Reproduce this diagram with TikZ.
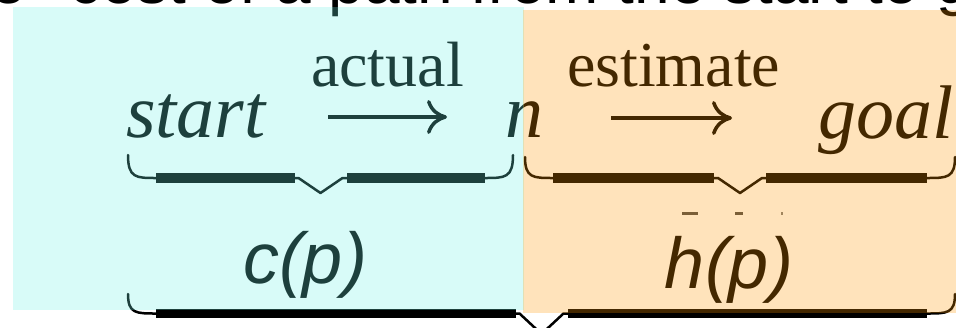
\documentclass[tikz,border=0pt]{standalone}
\usepackage{fontspec}
\setmainfont{Liberation Serif}
\newfontfamily\lsans{Liberation Sans}
\usetikzlibrary{arrows.meta}
\definecolor{tintcyan}{RGB}{112,243,232}
\definecolor{tintorange}{RGB}{255,150,0}
\tikzset{
  txt/.style={inner sep=0pt, outer sep=0pt, text=black},
  serifit/.style={txt, font=\fontsize{76}{80}\selectfont\itshape, anchor=base west},
  seriflab/.style={txt, font=\fontsize{64}{70}\selectfont, anchor=base west},
  sansit/.style={txt, font=\lsans\fontsize{72}{80}\selectfont\itshape, anchor=base},
  toptext/.style={txt, font=\lsans\fontsize{64}{70}\selectfont},
  longarrow/.style={line width=3.5pt, -{To[length=20pt,width=34pt]}},
  tint/.style={fill opacity=0.267},
}
% #1 x left, #2 x right, #3 y ends, #4 y bar, #5 y tip, #6 bar thickness
\newcommand\ubrace[6]{%
  \pgfmathsetmacro\ubm{(#1+#2)/2}
  \draw[line width=2.5pt, line join=round, line cap=round]
    (#1,#3) .. controls (#1,#4) and (#1+8,#4) .. (#1+28,#4)
    -- (\ubm-22,#4) -- (\ubm,#5) -- (\ubm+22,#4) -- (#2-28,#4)
    .. controls (#2-8,#4) and (#2,#4) .. (#2,#3);
  \fill (#1+28,#4-#6/2) rectangle (\ubm-26,#4+#6/2);
  \fill (\ubm+26,#4-#6/2) rectangle (#2-28,#4+#6/2);
}
\begin{document}
\begin{tikzpicture}[x=1pt,y=-1pt]
  \useasboundingbox (0,0) rectangle (956,327);
  \clip (0,0) rectangle (956,327);
  \fill[white] (0,0) rectangle (956,327);

  % heading line (cut by the top edge)
  \node[toptext, anchor=base east] (ttl1) at (26,3) {The};
  \node[toptext, anchor=base west] (ttl2) at (69,3) {cost of a path from the start to goal};

  % path line
  \node[serifit] (start) at (126,137) {start};
  \node[seriflab] (actual) at (311,86) {actual};
  \node[serifit] (n) at (505,137) {n};
  \node[seriflab] (estimate) at (567,86) {estimate};
  \node[serifit] (goal) at (818,138) {goal};

  \coordinate (a1s) at (328,117);
  \coordinate (a1e) at (447,117);
  \coordinate (a2s) at (611,118);
  \coordinate (a2e) at (732,118);
  \draw[longarrow] (a1s) -- (a1e);
  \draw[longarrow] (a2s) -- (a2e);

  % braces
  \ubrace{128}{513}{155}{178}{193}{10}
  \ubrace{525}{955}{157}{178}{193}{10}
  \ubrace{128}{955}{294}{313.5}{334}{9}

  % small marks below the right brace
  \fill[black!70] (682,212) rectangle (698,214.5);
  \fill[black!70] (735,212) rectangle (743,214.5);
  \fill[black!50] (781,212) rectangle (783,214.5);

  % labels
  \node[sansit] (cp) at (305,283) {c(p)};
  \node[sansit] (hp) at (729,288) {h(p)};

  % translucent colour overlays
  \fill[tintcyan, tint] (13,7) rectangle (523.5,309.5);
  \fill[tintorange, tint] (522.5,10) rectangle (957,313);
\end{tikzpicture}
\end{document}
